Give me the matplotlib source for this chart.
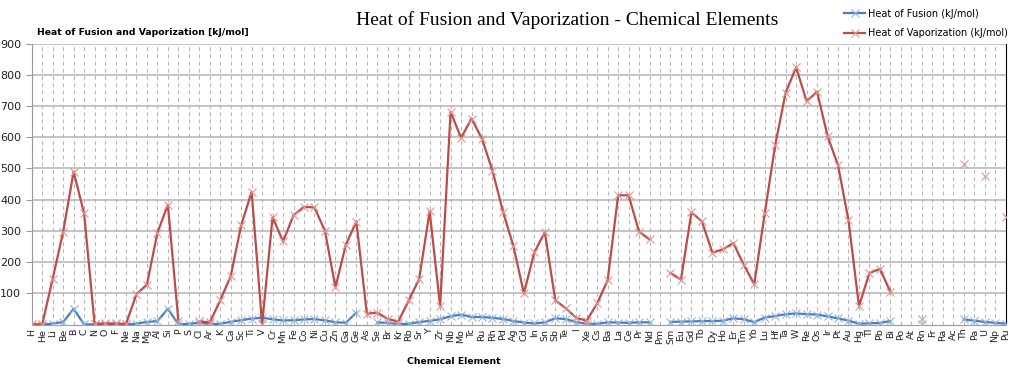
import numpy as np
import matplotlib
matplotlib.use('Agg')
import matplotlib.pyplot as plt

nan = np.nan

elements = ['H', 'He', 'Li', 'Be', 'B', 'C', 'N', 'O', 'F', 'Ne',
            'Na', 'Mg', 'Al', 'Si', 'P', 'S', 'Cl', 'Ar', 'K', 'Ca',
            'Sc', 'Ti', 'V', 'Cr', 'Mn', 'Fe', 'Co', 'Ni', 'Cu', 'Zn',
            'Ga', 'Ge', 'As', 'Se', 'Br', 'Kr', 'Rb', 'Sr', 'Y', 'Zr',
            'Nb', 'Mo', 'Tc', 'Ru', 'Rh', 'Pd', 'Ag', 'Cd', 'In', 'Sn',
            'Sb', 'Te', 'I', 'Xe', 'Cs', 'Ba', 'La', 'Ce', 'Pr', 'Nd',
            'Pm', 'Sm', 'Eu', 'Gd', 'Tb', 'Dy', 'Ho', 'Er', 'Tm', 'Yb',
            'Lu', 'Hf', 'Ta', 'W', 'Re', 'Os', 'Ir', 'Pt', 'Au', 'Hg',
            'Tl', 'Pb', 'Bi', 'Po', 'At', 'Rn', 'Fr', 'Ra', 'Ac', 'Th',
            'Pa', 'U', 'Np', 'Pu']

# heat of fusion (kJ/mol)
fusion = [0.12, 0.02, 3.0, 7.9, 50.2, 0.1, 0.72, 0.44, 0.51, 0.33,
          2.6, 8.5, 10.7, 50.2, 0.66, 1.72, 6.4, 1.18, 2.33, 8.54,
          14.1, 18.7, 21.5, 16.9, 12.9, 13.8, 16.2, 17.5, 13.1, 7.3,
          5.6, 38.0, nan, 6.7, 5.3, 1.6, 2.2, 8.0, 11.4, 16.9,
          26.4, 32.0, 24.0, 24.0, 21.5, 17.6, 11.3, 6.2, 3.3, 7.0,
          19.8, 17.5, 7.8, 2.3, 2.1, 7.1, 6.2, 5.5, 6.9, 7.1,
          nan, 8.6, 9.2, 10.0, 10.8, 11.1, 12.0, 19.9, 16.8, 7.7,
          22.0, 27.2, 33.0, 35.4, 33.2, 31.8, 26.1, 19.6, 12.5, 2.3,
          4.1, 4.8, 11.3, nan, nan, 2.9, nan, nan, nan, 16.1,
          12.3, 8.5, 5.2, 2.8]

# heat of vaporization (kJ/mol)
vaporization = [0.45, 0.08, 147, 297, 489.7, 355.8, 2.79, 3.41, 3.27, 1.71,
                97.4, 128, 294, 384, 12.4, nan, 10.2, 6.5, 77.5, 155,
                318, 425, 0.5, 344, 266, 350, 377, 375, 300, 119,
                256, 330, 34.8, 38, 18, 9.0, 77, 146, 363, 58.2,
                682, 598, 660, 595, 493, 362, 251, 100, 231.5, 296,
                77, 52.6, 20.8, 12.6, 67.7, 142, 414, 414, 297, 273,
                nan, 165, 144, 359, 331, 230, 241, 261, 191, 129,
                356, 575, 743, 824, 715, 746, 604, 510, 334, 59.2,
                165, 178, 105, nan, nan, 18.1, nan, nan, nan, 514,
                nan, 477, nan, 344]

x = np.arange(len(elements))

fig = plt.figure(figsize=(10.24, 3.73), dpi=100)
ax = fig.add_axes([0.031, 0.13, 0.951, 0.753])

ax.plot(x, fusion, color='#4a7ebb', lw=1.6, marker='x', ms=6, mew=0.8,
        mec='#94b6df', label='Heat of Fusion (kJ/mol)', zorder=3)
ax.plot(x, vaporization, color='#be4b48', lw=1.6, marker='x', ms=6, mew=0.8,
        mec='#de9896', label='Heat of Vaporization (kJ/mol)', zorder=3)

ax.set_xlim(0, len(elements) - 1)
ax.set_ylim(0, 900)
ax.set_yticks(range(100, 1000, 100))
ax.set_xticks(x)
ax.set_xticklabels(elements, rotation=90, fontsize=6.8, color='#222222')
ax.tick_params(axis='y', labelsize=8, length=4, color='#9a9a9a', labelcolor='#222222')
ax.tick_params(axis='x', length=0, pad=3)

ax.yaxis.grid(True, color='#b4b4b4', lw=1.1)
ax.xaxis.grid(True, color='#b8b8b8', lw=0.8, ls=(0, (3.5, 3)))
ax.set_axisbelow(True)
for side in ['left', 'bottom']:
    ax.spines[side].set_color('#9a9a9a')
ax.spines['top'].set_visible(False)
ax.spines['right'].set_color('black')

fig.text(0.554, 0.945, 'Heat of Fusion and Vaporization - Chemical Elements',
         family='Liberation Serif', fontsize=14, ha='center', va='center')
fig.text(0.036, 0.914, 'Heat of Fusion and Vaporization [kJ/mol]',
         fontsize=6.7, fontweight='bold', ha='left', va='center')
fig.text(0.443, 0.03, 'Chemical Element', fontsize=6.7, fontweight='bold',
         ha='center', va='center')

fig.legend(loc='upper right', bbox_to_anchor=(0.993, 1.0), frameon=False,
           fontsize=7, handlelength=2.2, labelspacing=1.0, handletextpad=0.3)

fig.savefig('out.png', dpi=100)
